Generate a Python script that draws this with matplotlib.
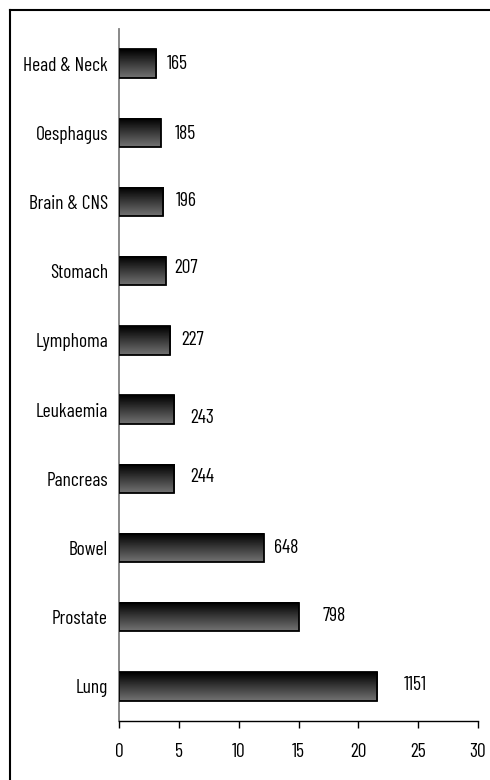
import numpy as np
import matplotlib
matplotlib.use("Agg")
import matplotlib.pyplot as plt
from matplotlib.lines import Line2D

# data, top to bottom as in the chart
sites = ["Head & Neck", "Oesphagus", "Brain & CNS", "Stomach", "Lymphoma",
         "Leukaemia", "Pancreas", "Bowel", "Prostate", "Lung"]
percent = [3.1, 3.5, 3.7, 3.9, 4.3, 4.6, 4.6, 12.1, 15.0, 21.6]
counts = [165, 185, 196, 207, 227, 243, 244, 648, 798, 1151]
xticks = [0, 5, 10, 15, 20, 25, 30]

# hand placed label nudges (points)
label_dx = [8, 10, 9, 6, 8, 12, 12, 7, 17, 19]
label_dy = [0, -1, 1, 2, 0, -6, 1, 0, 1, 1]

plt.rcParams["font.family"] = ["Barlow Condensed", "Archivo Narrow", "DejaVu Sans"]
FS = 14

W, H = 490, 780
fig = plt.figure(figsize=(W / 100, H / 100), dpi=100)
ax = fig.add_axes([119 / W, (H - 721) / H, (478 - 119) / W, (721 - 29) / H])

# outer frame (top and left only)
fig.add_artist(Line2D([10 / W, 10 / W], [0, (H - 10) / H], color="black", lw=1.5,
                      transform=fig.transFigure))
fig.add_artist(Line2D([10 / W, 1], [(H - 10) / H, (H - 10) / H], color="black", lw=1.5,
                      transform=fig.transFigure))

ypos = np.arange(len(sites))
bh = 0.41
grad = np.linspace(0.0, 0.45, 64).reshape(-1, 1)

for y, v in zip(ypos, percent):
    ax.imshow(grad, cmap="gray", vmin=0, vmax=1, aspect="auto", interpolation="bilinear",
              extent=(0, v, y + bh / 2, y - bh / 2), zorder=2)
ax.barh(ypos, percent, height=bh, facecolor="none", edgecolor="black", lw=1.3, zorder=3)

for y, v, c, dx, dy in zip(ypos, percent, counts, label_dx, label_dy):
    ax.annotate(str(c), (v, y), xytext=(dx, dy), textcoords="offset points",
                ha="left", va="center", fontsize=FS, color="black")

ax.set_xlim(0, 30)
ax.set_ylim(len(sites) - 0.5, -0.5)
ax.set_xticks(xticks)
ax.set_xticklabels([str(t) for t in xticks], fontsize=FS)
ax.set_yticks(ypos)
ax.set_yticklabels(sites, fontsize=FS)
ax.tick_params(axis="y", length=0, pad=8)
ax.tick_params(axis="x", length=5, width=1, direction="out", pad=11, color="black")
for s in ["top", "right"]:
    ax.spines[s].set_visible(False)
ax.spines["left"].set_color("#808080")
ax.spines["left"].set_linewidth(1.3)
ax.spines["bottom"].set_color("black")
ax.spines["bottom"].set_linewidth(1)

fig.savefig("out.png", dpi=100)
